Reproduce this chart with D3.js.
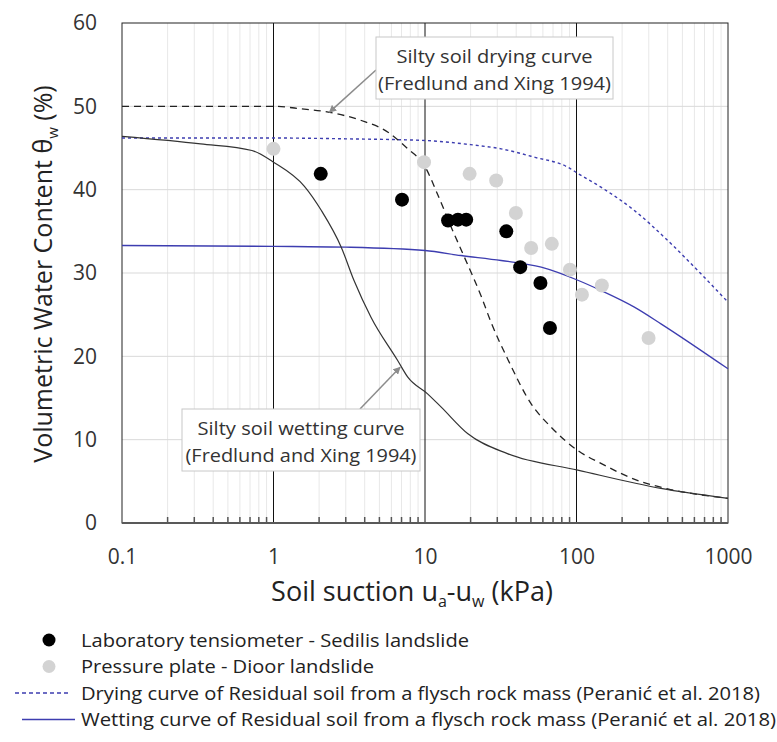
<!DOCTYPE html>
<html>
<head>
<meta charset="utf-8">
<script src="https://cdn.jsdelivr.net/npm/d3@7"></script>
<style>
  body { margin: 0; background: #fff; }
  svg { font-family: "Open Sans", "Noto Sans", sans-serif; }
</style>
</head>
<body>
<div id="chart"></div>
<script>
// tick values
const xTicks = [0.1, 1, 10, 100, 1000];
const xTickLabels = ["0.1", "1", "10", "100", "1000"];
const yTicks = [0, 10, 20, 30, 40, 50, 60];

// measured points
const tensioSuction = [2.05, 7.05, 14.2, 16.5, 18.7, 34.4, 42.5, 57.8, 66.8];
const tensioTheta = [41.9, 38.8, 36.3, 36.4, 36.4, 35.0, 30.7, 28.8, 23.4];
const plateSuction = [1.0, 9.85, 19.7, 29.5, 39.8, 50.2, 68.7, 90.5, 108.6, 147, 299];
const plateTheta = [44.9, 43.3, 41.9, 41.1, 37.2, 33.0, 33.5, 30.4, 27.4, 28.5, 22.2];

// Fredlund and Xing silty soil curves
const siltDrySuction = [0.1, 0.3, 1, 1.53, 2.3, 3.8, 5.7, 7.7, 9.9, 12.2, 14.9, 18.2, 23.5, 27.4, 35.3, 50.2, 68, 102, 145, 267, 400, 1000];
const siltDryTheta = [50, 50, 50, 49.7, 49.3, 48.3, 46.9, 44.9, 42.9, 39.3, 35.5, 31.9, 27.2, 24.0, 19.6, 14.3, 11.5, 8.7, 7.15, 4.95, 4.1, 2.96];
const siltWetSuction = [0.1, 0.33, 0.72, 1, 1.6, 2.07, 2.8, 3.4, 4.4, 6.6, 7.7, 10.4, 12.8, 19.2, 35.3, 102, 361, 1000];
const siltWetTheta = [46.4, 45.5, 44.7, 43.3, 40.4, 37.5, 33.1, 29.1, 24.7, 19.5, 17.5, 15.5, 13.9, 10.7, 8.3, 6.35, 4.15, 2.96];

// Peranic et al. 2018 residual soil curves
const resDrySuction = [0.1, 1, 3, 10, 20, 31.8, 52.7, 87.6, 103, 145, 241, 400, 663, 1000];
const resDryTheta = [46.2, 46.2, 46.1, 45.9, 45.4, 44.9, 43.9, 42.7, 41.9, 40.3, 37.5, 33.9, 29.9, 26.5];
const resWetSuction = [0.1, 1, 3, 10, 17.3, 31.8, 58.5, 103, 145, 241, 361, 1000];
const resWetTheta = [33.3, 33.2, 33.1, 32.7, 32.1, 31.5, 30.7, 29.1, 27.9, 25.9, 23.9, 18.5];

const W = 777, H = 742;
const margin = { top: 23, left: 122 };
const width = 606, height = 500;

const svg = d3.select("#chart").append("svg")
    .attr("width", W).attr("height", H);

const g = svg.append("g")
    .attr("transform", `translate(${margin.left},${margin.top})`);

const x = d3.scaleLog().domain([0.1, 1000]).range([0, width]);
const y = d3.scaleLinear().domain([0, 60]).range([height, 0]);

// minor vertical grid
const minor = [];
[0.1, 1, 10, 100].forEach(dec => {
    for (let k = 2; k <= 9; k++) minor.push(dec * k);
});
g.append("g").selectAll("line").data(minor).enter().append("line")
    .attr("x1", d => x(d)).attr("x2", d => x(d))
    .attr("y1", 0).attr("y2", height)
    .attr("stroke", "#e8e8e8").attr("stroke-width", 1);

// horizontal grid
g.append("g").selectAll("line").data(yTicks.slice(1, -1)).enter().append("line")
    .attr("x1", 0).attr("x2", width)
    .attr("y1", d => y(d)).attr("y2", d => y(d))
    .attr("stroke", "#d9d9d9").attr("stroke-width", 1);

// major vertical lines
g.append("g").selectAll("line").data([1, 10, 100]).enter().append("line")
    .attr("x1", d => x(d)).attr("x2", d => x(d))
    .attr("y1", 0).attr("y2", height)
    .attr("stroke", "#111").attr("stroke-width", 1);

// frame
g.append("rect").attr("width", width).attr("height", height)
    .attr("fill", "none").attr("stroke", "#222").attr("stroke-width", 1);

// minor ticks at bottom
g.append("g").selectAll("line").data(minor).enter().append("line")
    .attr("x1", d => x(d)).attr("x2", d => x(d))
    .attr("y1", height).attr("y2", height - 6)
    .attr("stroke", "#555").attr("stroke-width", 1.5);

g.append("line").attr("x1", 0).attr("x2", width)
    .attr("y1", height).attr("y2", height)
    .attr("stroke", "#595959").attr("stroke-width", 2);

// axes labels
const yAxis = g.append("g")
    .call(d3.axisLeft(y).tickValues(yTicks).tickSize(0).tickPadding(25));
yAxis.select(".domain").remove();
yAxis.selectAll("text").style("font-size", "21px").attr("fill", "#333").style("font-family", "Open Sans");

const xAxis = g.append("g").attr("transform", `translate(0,${height})`)
    .call(d3.axisBottom(x).tickValues(xTicks).tickFormat((d, i) => xTickLabels[i]).tickSize(0).tickPadding(26));
xAxis.select(".domain").remove();
xAxis.selectAll("text").style("font-size", "21px").attr("fill", "#333").style("font-family", "Open Sans");

// curves
const line = (xs, ys) => d3.line()
    .x((d, i) => x(xs[i])).y((d, i) => y(ys[i]))
    .curve(d3.curveMonotoneX)(xs);

g.append("path").attr("d", line(resDrySuction, resDryTheta))
    .attr("fill", "none").attr("stroke", "#3d3db0").attr("stroke-width", 1.4)
    .attr("stroke-dasharray", "3,3");
g.append("path").attr("d", line(resWetSuction, resWetTheta))
    .attr("fill", "none").attr("stroke", "#3d3db0").attr("stroke-width", 1.3);
g.append("path").attr("d", line(siltDrySuction, siltDryTheta))
    .attr("fill", "none").attr("stroke", "#222").attr("stroke-width", 1.3)
    .attr("stroke-dasharray", "7,5");
g.append("path").attr("d", line(siltWetSuction, siltWetTheta))
    .attr("fill", "none").attr("stroke", "#333").attr("stroke-width", 1.2);

// points
g.append("g").selectAll("circle").data(plateSuction).enter().append("circle")
    .attr("cx", d => x(d)).attr("cy", (d, i) => y(plateTheta[i]))
    .attr("r", 7).attr("fill", "#d3d3d3");
g.append("g").selectAll("circle").data(tensioSuction).enter().append("circle")
    .attr("cx", d => x(d)).attr("cy", (d, i) => y(tensioTheta[i]))
    .attr("r", 7).attr("fill", "#000");

// annotations
svg.append("defs").append("marker")
    .attr("id", "arrow").attr("viewBox", "0 0 10 10")
    .attr("refX", 9).attr("refY", 5)
    .attr("markerWidth", 5).attr("markerHeight", 5)
    .attr("orient", "auto")
    .append("path").attr("d", "M0,0L10,5L0,10z").attr("fill", "#8c8c8c");

const notes = [
    { lines: ["Silty soil drying curve", "(Fredlund  and Xing 1994)"], lens: [196, 233],
      box: [254, 14, 237, 62], from: [254, 47], tip: [2.34, 49.3] },
    { lines: ["Silty soil wetting curve", "(Fredlund  and Xing 1994)"], lens: [207, 231],
      box: [60, 386, 238, 62], from: [238, 386], tip: [6.85, 18.7] }
];

notes.forEach(n => {
    g.append("line")
        .attr("x1", n.from[0]).attr("y1", n.from[1])
        .attr("x2", x(n.tip[0])).attr("y2", y(n.tip[1]))
        .attr("stroke", "#8c8c8c").attr("stroke-width", 1.5)
        .attr("marker-end", "url(#arrow)");
    g.append("rect")
        .attr("x", n.box[0]).attr("y", n.box[1])
        .attr("width", n.box[2]).attr("height", n.box[3])
        .attr("fill", "#fff").attr("stroke", "#c8c8c8").attr("stroke-width", 1);
    n.lines.forEach((t, i) => {
        g.append("text")
            .attr("x", n.box[0] + n.box[2] / 2)
            .attr("y", n.box[1] + 26 + i * 27)
            .attr("text-anchor", "middle")
            .attr("textLength", n.lens[i]).attr("lengthAdjust", "spacingAndGlyphs")
            .style("font-size", "18px").attr("fill", "#333")
            .text(t);
    });
});

// axis titles
const xt = svg.append("text")
    .attr("x", 412).attr("y", 601)
    .attr("text-anchor", "middle")
    .style("font-size", "27px").attr("fill", "#222");
xt.append("tspan").text("Soil suction  u");
xt.append("tspan").text("a").style("font-size", "16px").attr("dy", 6);
xt.append("tspan").text("-u").attr("dy", -6);
xt.append("tspan").text("w").style("font-size", "16px").attr("dy", 6);
xt.append("tspan").text(" (kPa)").attr("dy", -6);

const yt = svg.append("text")
    .attr("transform", "translate(52,274) rotate(-90)")
    .attr("text-anchor", "middle")
    .style("font-size", "25px").attr("fill", "#222");
yt.append("tspan").text("Volumetric Water Content θ");
yt.append("tspan").text("w").style("font-size", "15px").attr("dy", 6);
yt.append("tspan").text(" (%)").attr("dy", -6);

// legend
const legendItems = [
    { label: "Laboratory tensiometer - Sedilis landslide", type: "dot", color: "#000", len: 388 },
    { label: "Pressure plate - Dioor landslide", type: "dot", color: "#d3d3d3", len: 293 },
    { label: "Drying curve of Residual soil from a flysch rock mass (Peranić et al. 2018)", type: "dash", color: "#3d3db0", len: 679 },
    { label: "Wetting curve of Residual soil from a flysch rock mass (Peranić et al. 2018)", type: "line", color: "#3d3db0", len: 695 }
];

const legend = svg.append("g");
legendItems.forEach((d, i) => {
    const cy = 640 + i * 26.5;
    if (d.type === "dot") {
        legend.append("circle").attr("cx", 49).attr("cy", cy).attr("r", 6.5).attr("fill", d.color);
    } else {
        legend.append("line")
            .attr("x1", d.type === "dash" ? 15 : 22).attr("x2", d.type === "dash" ? 70 : 75)
            .attr("y1", cy).attr("y2", cy)
            .attr("stroke", d.color).attr("stroke-width", 1.3)
            .attr("stroke-dasharray", d.type === "dash" ? "4,3" : null);
    }
    legend.append("text")
        .attr("x", 81).attr("y", cy + 6.5)
        .attr("textLength", d.len).attr("lengthAdjust", "spacingAndGlyphs")
        .style("font-size", "18px").attr("fill", "#222")
        .text(d.label);
});
</script>
</body>
</html>
